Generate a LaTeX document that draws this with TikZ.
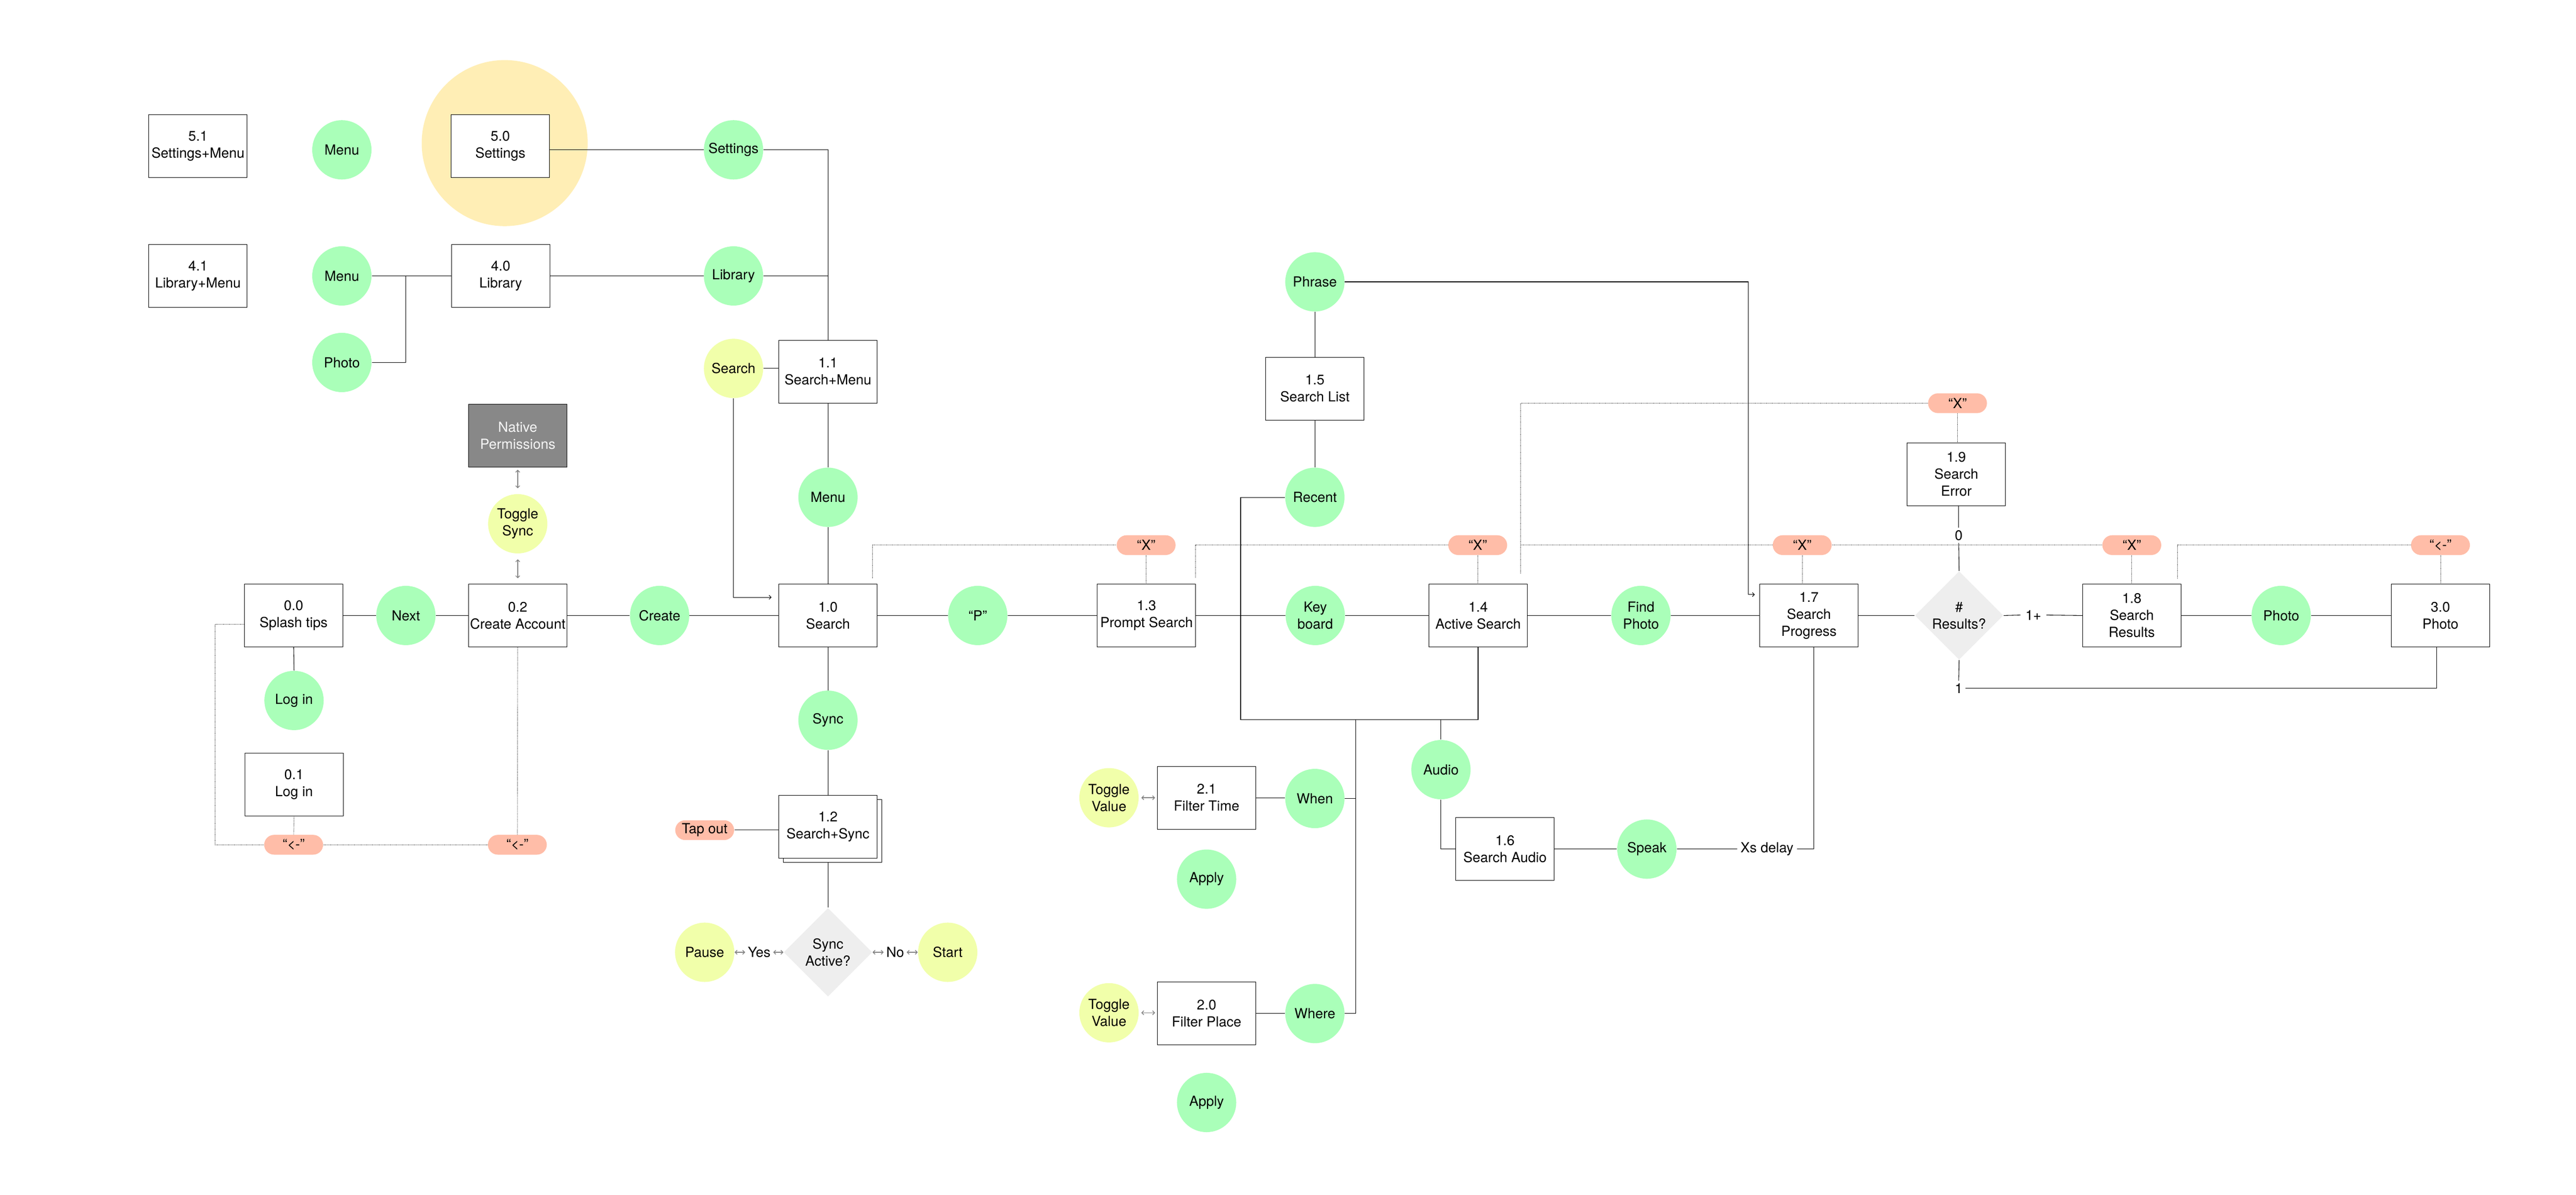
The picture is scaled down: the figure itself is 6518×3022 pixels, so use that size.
\documentclass[tikz,border=0pt]{standalone}
\usepackage{fontspec}
\setmainfont{TeX Gyre Heros}
\usetikzlibrary{shapes.geometric,arrows.meta}
\definecolor{cgreen}{RGB}{170,255,185}
\definecolor{cyellow}{RGB}{241,255,170}
\definecolor{cpink}{RGB}{255,189,168}
\definecolor{cbig}{RGB}{255,238,181}
\definecolor{cnp}{RGB}{136,136,136}
\definecolor{cnptext}{RGB}{245,245,245}
\definecolor{cdia}{RGB}{238,238,238}
\definecolor{carr}{RGB}{130,130,130}
\newcommand\dgf{\fontsize{8.8pt}{10.75pt}\selectfont}
\tikzset{
  box/.style={draw=black, line width=0.35pt, fill=white, minimum width=62.25pt, minimum height=39.75pt, inner sep=0pt, align=center, font=\dgf},
  npbox/.style={box, fill=cnp, text=cnptext},
  gc/.style={circle, fill=cgreen, minimum size=37.5pt, inner sep=0pt, align=center, font=\dgf},
  yc/.style={circle, fill=cyellow, minimum size=37.5pt, inner sep=0pt, align=center, font=\dgf},
  pill/.style={rectangle, rounded corners=6.25pt, fill=cpink, minimum width=37.25pt, minimum height=12.5pt, inner sep=0pt, font=\dgf},
  dia/.style={diamond, fill=cdia, minimum width=56pt, minimum height=56pt, inner sep=0pt, align=center, font=\dgf},
  lbl/.style={inner sep=1.5pt, font=\dgf},
  conn/.style={draw=black, line width=0.35pt},
  sarr/.style={conn, -{Straight Barb[length=1.3pt,width=2.6pt]}},
  dotl/.style={draw=black!80, line width=0.28pt, dash pattern=on 0.3pt off 0.3pt},
  darr/.style={draw=carr, line width=0.45pt, {Straight Barb[length=1.3pt,width=2.6pt]}-{Straight Barb[length=1.3pt,width=2.6pt]}}
}
\begin{document}
\begin{tikzpicture}[x=0.25pt,y=-0.25pt]
\useasboundingbox (0,0) rectangle (6518,3022);
\fill[white] (0,0) rectangle (6518,3022);
% big highlight
\node[circle, fill=cbig, minimum size=105pt, inner sep=0pt] (bigc) at (1277,362) {};
% row 5
\node[box] (b51) at (501,370) {5.1\\Settings+Menu};
\node[gc] (cMenu5) at (865,379) {Menu};
\node[box] (b50) at (1266,370) {5.0\\Settings};
\node[gc] (cSettings) at (1856,379) {Settings};
% row 4
\node[box] (b41) at (501,698) {4.1\\Library+Menu};
\node[gc] (cMenu4) at (865,698) {Menu};
\node[box] (b40) at (1267,698) {4.0\\Library};
\node[gc] (cLibrary) at (1856,698) {Library};
\node[gc] (cPhoto4) at (865,917) {Photo};
\node[yc] (cSearch) at (1856,932) {Search};
\node[box] (b11) at (2095,940) {1.1\\Search+Menu};
\node[gc] (cMenu1) at (2095,1258) {Menu};
\node[npbox] (np) at (1310,1102) {Native\\Permissions};
\node[yc] (cTS) at (1310,1325) {Toggle\\Sync};
% main row
\node[box] (b00) at (743,1557) {0.0\\Splash tips};
\node[gc] (cNext) at (1027,1557) {Next};
\node[box] (b02) at (1310,1557) {0.2\\Create Account};
\node[gc] (cCreate) at (1669,1557) {Create};
\node[box] (b10) at (2095,1557) {1.0\\Search};
\node[gc] (cP) at (2474,1557) {“P”};
\node[box] (b13) at (2901,1557) {1.3\\Prompt Search};
\node[gc] (cKey) at (3328,1557) {Key\\board};
\node[box] (b14) at (3740,1557) {1.4\\Active Search};
\node[gc] (cFind) at (4152,1557) {Find\\Photo};
\node[box] (b17) at (4577,1557) {1.7\\Search\\Progress};
\node[dia] (dRes) at (4957,1557) {\#\\Results?};
\node[box] (b18) at (5394,1557) {1.8\\Search\\Results};
\node[gc] (cPhoto3) at (5772,1557) {Photo};
\node[box] (b30) at (6175,1557) {3.0\\Photo};
% upper middle
\node[gc] (cPhrase) at (3327,713) {Phrase};
\node[box] (b15) at (3327,983) {1.5\\Search List};
\node[gc] (cRecent) at (3327,1258) {Recent};
\node[box] (b19) at (4950,1200) {1.9\\Search\\Error};
% pills
\node[pill] (pX13) at (2900,1379) {“X”};
\node[pill] (pX14) at (3739,1379) {“X”};
\node[pill] (pX17) at (4560,1379) {“X”};
\node[pill] (pX18) at (5394,1379) {“X”};
\node[pill] (pB30) at (6175,1379) {“<-”};
\node[pill] (pX19) at (4953,1020) {“X”};
% lower left
\node[gc] (cLogin) at (744,1772) {Log in};
\node[box] (b01) at (744,1985) {0.1\\Log in};
\node[pill] (pB1) at (743,2137) {“<-”};
\node[pill] (pB2) at (1309,2137) {“<-”};
\node[gc] (cSync) at (2095,1822) {Sync};
\node[box] (b12s) at (2106,2102) {};
\node[box] (b12) at (2095,2091) {1.2\\Search+Sync};
\node[pill] (pTap) at (1783,2100) {Tap out};
\node[dia] (dSync) at (2095,2409) {Sync\\Active?};
\node[yc] (cPause) at (1783,2409) {Pause};
\node[yc] (cStart) at (2398,2409) {Start};
\node[lbl] (lYes) at (1921,2409) {Yes};
\node[lbl] (lNo) at (2265,2409) {No};
% lower middle
\node[yc] (cTV1) at (2806,2018) {Toggle\\Value};
\node[box] (b21) at (3053,2018) {2.1\\Filter Time};
\node[gc] (cWhen) at (3327,2020) {When};
\node[gc] (cApply1) at (3053,2224) {Apply};
\node[yc] (cTV2) at (2806,2562) {Toggle\\Value};
\node[box] (b20) at (3053,2564) {2.0\\Filter Place};
\node[gc] (cWhere) at (3327,2564) {Where};
\node[gc] (cApply2) at (3053,2789) {Apply};
\node[gc] (cAudio) at (3646,1947) {Audio};
\node[box] (b16) at (3808,2148) {1.6\\Search Audio};
\node[gc] (cSpeak) at (4167,2148) {Speak};
\node[lbl, inner sep=2pt] (lXs) at (4471,2148) {Xs delay};
\node[lbl] (l0) at (4956,1354) {0};
\node[lbl] (l1) at (4956,1741) {1};
\node[lbl, inner sep=3pt] (l1p) at (5145,1556) {1+};
% coordinates
\coordinate (jm) at (1026,698);
\coordinate (sr) at (1952,1511);
\coordinate (jr) at (3139,1821);
\coordinate (jw) at (3430,1821);
\coordinate (ja) at (3646,1821);
\coordinate (ph) at (4424,1504);
\coordinate (pht) at (4440,1504);
\coordinate (dl) at (544,2137);
\coordinate (d10) at (2208,1463);
\coordinate (d13) at (3025,1461);
\coordinate (d14) at (3848,1451);
\coordinate (d18) at (5510,1464);
% solid connectors
\draw[conn] (b50.east |- cSettings.west) -- (cSettings.west);
\draw[conn] (cSettings.east) -| (b11.north);
\draw[conn] (b40.east) -- (cLibrary.west);
\draw[conn] (cLibrary.east) -- (cLibrary.east -| b11.north);
\draw[conn] (cMenu4.east) -- (b40.west);
\draw[conn] (jm) |- (cPhoto4.east);
\draw[conn] (cSearch.east) -- (cSearch.east -| b11.west);
\draw[sarr] (cSearch.south) |- (sr);
\draw[conn] (b11.south) -- (cMenu1.north);
\draw[conn] (cMenu1.south) -- (b10.north);
\draw[conn] (b00.east) -- (cNext.west);
\draw[conn] (cNext.east) -- (b02.west);
\draw[conn] (b02.east) -- (cCreate.west);
\draw[conn] (cCreate.east) -- (b10.west);
\draw[conn] (b00.south) -- (cLogin.north);
\draw[conn] (b10.east) -- (cP.west);
\draw[conn] (cP.east) -- (b13.west);
\draw[conn] (b10.south) -- (cSync.north);
\draw[conn] (cSync.south) -- (b12.north);
\draw[conn] (b12.south |- b12s.south) -- (dSync.north);
\draw[conn] (pTap.east) -- (pTap.east -| b12.west);
\draw[conn] (b13.east) -- (cKey.west);
\draw[conn] (cKey.east) -- (b14.west);
\draw[conn] (cRecent.west) -| (jr) -| (b14.south);
\draw[conn] (jw) |- (cWhere.east);
\draw[conn] (cWhen.east) -- (cWhen.east -| jw);
\draw[conn] (b21.east) -- (b21.east -| cWhen.west);
\draw[conn] (b20.east) -- (cWhere.west);
\draw[conn] (ja) -- (cAudio.north);
\draw[conn] (cAudio.south) |- (b16.west);
\draw[conn] (b16.east) -- (cSpeak.west);
\draw[conn] (cSpeak.east) -- (lXs.west);
\draw[conn] (lXs.east) -| ([xshift=3pt]b17.south);
\draw[conn] (cPhrase.south) -- (b15.north);
\draw[conn] (b15.south) -- (cRecent.north);
\draw[sarr] (cPhrase.east) -| (ph) -- (pht);
\draw[conn] (b14.east) -- (cFind.west);
\draw[conn] (cFind.east) -- (b17.west);
\draw[conn] (b17.east) -- (dRes.west);
\draw[conn] (l0.north |- b19.south) -- (l0.north);
\draw[conn] (l0.south) -- (dRes.north);
\draw[conn] (dRes.east) -- (l1p.west);
\draw[conn] (l1p.east) -- (b18.west);
\draw[conn] (dRes.south) -- (l1.north);
\draw[conn] (l1.east) -| ([xshift=-2.5pt]b30.south);
\draw[conn] (b18.east) -- (cPhoto3.west);
\draw[conn] (cPhoto3.east) -- (b30.west);
% dotted connectors
\draw[dotl] ([yshift=-5.5pt]b00.west) -| (dl) -- (pB1.west);
\draw[dotl] (b01.south) -- (pB1.north);
\draw[dotl] (pB1.east) -- (pB2.west);
\draw[dotl] (b02.south) -- (pB2.north);
\draw[dotl] (d10) |- (pX13.west);
\draw[dotl] (pX13.south) -- (pX13.south |- b13.north);
\draw[dotl] (d13) |- (pX14.west);
\draw[dotl] (pX14.south) -- (pX14.south |- b14.north);
\draw[dotl] (d14) |- (pX17.west);
\draw[dotl] (d14) |- (pX19.west);
\draw[dotl] (pX17.south) -- (pX17.south |- b17.north);
\draw[dotl] (pX17.east) -- (pX18.west);
\draw[dotl] (pX19.south) -- (pX19.south |- b19.north);
\draw[dotl] (pX18.south) -- (b18.north);
\draw[dotl] (d18) |- (pB30.west);
\draw[dotl] (pB30.south) -- (b30.north);
% grey double arrows
\draw[darr, shorten <=1.5pt, shorten >=3.5pt] (np.south) -- (cTS.north);
\draw[darr, shorten <=3.5pt, shorten >=3.5pt] (cTS.south) -- (b02.north);
\draw[darr, shorten <=1.5pt, shorten >=1.3pt] (cTV1.east) -- (cTV1.east -| b21.west);
\draw[darr, shorten <=1.5pt, shorten >=1.3pt] (cTV2.east) -- (cTV2.east -| b20.west);
\draw[darr] (cPause.east) -- (lYes.west);
\draw[darr] (lYes.east) -- (dSync.west);
\draw[darr] (dSync.east) -- (lNo.west);
\draw[darr] (lNo.east) -- (cStart.west);
\end{tikzpicture}
\end{document}
